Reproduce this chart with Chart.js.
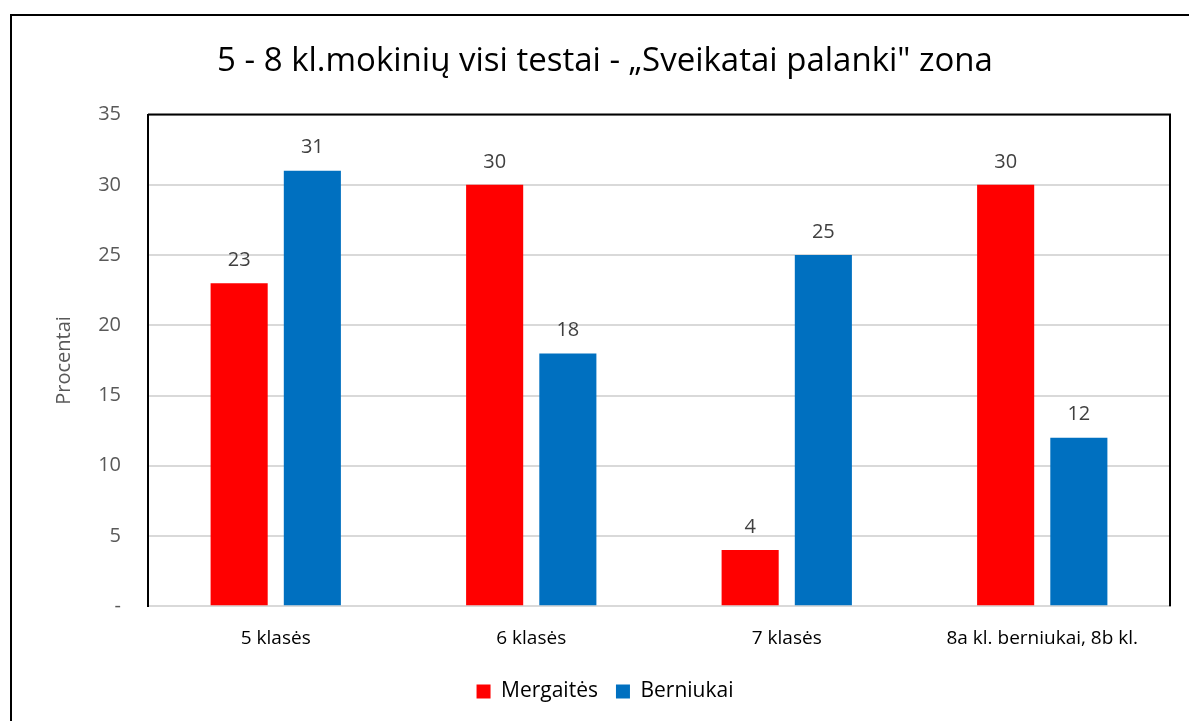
<!DOCTYPE html>
<html>
<head>
<meta charset="utf-8">
<script src="https://cdn.jsdelivr.net/npm/chart.js@4"></script>
<style>
  html, body { margin: 0; padding: 0; background: #fff; overflow: hidden; }
  #wrap { position: absolute; left: 0; top: 0; width: 1189px; height: 721px; }
  #frame { position: absolute; left: 10px; top: 14px; width: 1200px; height: 720px;
           border: 2px solid #000; pointer-events: none; }
</style>
</head>
<body>
<div id="wrap"><canvas id="chart" width="1189" height="721"></canvas></div>
<div id="frame"></div>
<script>
const categories = ["5 klasės", "6 klasės", "7 klasės", "8a kl. berniukai, 8b kl."];
const girls = [23, 30, 4, 30];
const boys = [31, 18, 25, 12];
const seriesNames = ["Mergaitės", "Berniukai"];

const FONT = "'Open Sans', 'DejaVu Sans', sans-serif";

// value labels above each bar
const barLabels = {
  id: "barLabels",
  afterDatasetsDraw(chart) {
    let ctx = chart.ctx;
    ctx.save();
    ctx.font = "20px " + FONT;
    ctx.fillStyle = "#404040";
    ctx.textAlign = "center";
    ctx.textBaseline = "bottom";
    chart.data.datasets.forEach((ds, i) => {
      chart.getDatasetMeta(i).data.forEach((bar, j) => {
        ctx.fillText(ds.data[j], bar.x, bar.y - 13);
      });
    });
    ctx.restore();
  }
};

// black frame on top and right of the plot area
const plotFrame = {
  id: "plotFrame",
  afterDraw(chart) {
    let a = chart.chartArea;
    let ctx = chart.ctx;
    ctx.save();
    ctx.strokeStyle = "#000";
    ctx.lineWidth = 2;
    ctx.beginPath();
    ctx.moveTo(a.left, a.top);
    ctx.lineTo(a.right, a.top);
    ctx.lineTo(a.right, a.bottom);
    ctx.stroke();
    ctx.restore();
  }
};

new Chart(document.getElementById("chart"), {
  type: "bar",
  data: {
    labels: categories,
    datasets: [
      { label: seriesNames[0], data: girls, backgroundColor: "#FF0000" },
      { label: seriesNames[1], data: boys, backgroundColor: "#0070C0" }
    ]
  },
  options: {
    responsive: false,
    animation: false,
    datasets: { bar: { categoryPercentage: 0.573, barPercentage: 0.78 } },
    layout: { padding: { left: 40, right: 19, top: 0, bottom: 9 } },
    plugins: {
      title: {
        display: true,
        text: "5 - 8 kl.mokinių visi testai - „Sveikatai palanki\" zona",
        color: "#000",
        font: { family: FONT, size: 33, weight: "normal" },
        padding: { top: 42, bottom: 33 }
      },
      legend: {
        position: "bottom",
        labels: {
          color: "#000",
          font: { family: FONT, size: 21 },
          boxWidth: 14,
          boxHeight: 14,
          padding: 18
        }
      },
      tooltip: { enabled: false }
    },
    scales: {
      x: {
        grid: { display: false },
        border: { color: "#d9d9d9", width: 2 },
        ticks: { color: "#000", font: { family: FONT, size: 19 }, padding: 13 }
      },
      y: {
        min: 0,
        max: 35,
        ticks: {
          stepSize: 5,
          color: "#595959",
          font: { family: FONT, size: 20 },
          padding: 27,
          callback: v => v === 0 ? "-" : v
        },
        grid: { color: "#d9d9d9", lineWidth: 2, drawTicks: false },
        border: { color: "#000", width: 2 },
        title: {
          display: true,
          text: "Procentai",
          color: "#595959",
          font: { family: FONT, size: 20 },
          padding: { top: 12, bottom: 0 }
        },
        afterFit(scale) { scale.width = 108; }
      }
    }
  },
  plugins: [barLabels, plotFrame]
});
</script>
</body>
</html>
